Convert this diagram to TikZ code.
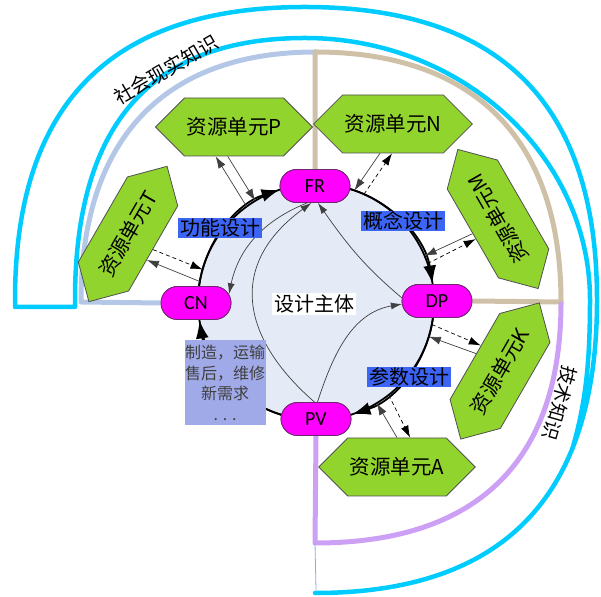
\documentclass[tikz,border=0pt]{standalone}
\usepackage{fontspec}
\setmainfont{Noto Sans CJK SC}
\newfontfamily\latinf{Carlito}
\usetikzlibrary{shapes.misc,shapes.symbols,arrows.meta,calc}
\definecolor{cyanline}{RGB}{0,204,255}
\definecolor{steel}{RGB}{180,199,231}
\definecolor{tanline}{RGB}{207,193,168}
\definecolor{violetline}{RGB}{204,160,245}
\definecolor{hexgreen}{RGB}{146,212,46}
\definecolor{hexedge}{RGB}{80,80,80}
\definecolor{pillmag}{RGB}{255,0,255}
\definecolor{pilledge}{RGB}{110,40,110}
\definecolor{circfill}{RGB}{228,234,246}
\definecolor{labelblue}{RGB}{60,100,245}
\definecolor{notebox}{RGB}{160,170,232}
\definecolor{thinblue}{RGB}{143,170,220}
\begin{document}
\begin{tikzpicture}[x=1pt,y=1pt,
  hexbox/.style={signal, signal to=east and west, signal pointer angle=90,
    draw=hexedge, line width=0.8, fill=hexgreen, minimum height=58,
    minimum width=140, inner xsep=2, font=\fontsize{20.5}{24}\selectfont},
  pill/.style={rounded rectangle, draw=pilledge, line width=0.8, fill=pillmag,
    minimum width=70, minimum height=33, inner sep=0,
    font=\latinf\fontsize{20}{24}\selectfont},
  tag/.style={fill=labelblue, inner xsep=2, inner ysep=1,
    font=\fontsize{20}{24}\selectfont},
  circarrow/.style={line width=1.8, -{Latex[length=18,width=13]}},
  hexsolid/.style={line width=0.7, draw=black!75, -{Latex[length=12,width=8]}},
  hexdash/.style={line width=0.7, dash pattern=on 4 off 3, -{Latex[length=12,width=8]}},
  innerarrow/.style={line width=0.7, draw=black!75, -{Latex[length=11,width=7]}},
  frame/.style={line width=5, line join=round},
]
\useasboundingbox (0,0) rectangle (601,596);

% outer cyan band
\draw[cyanline, line width=4.5, line join=round, line cap=round]
  (572,146) .. controls (585,190) and (590,230) .. (590,296)
  .. controls (590,440) and (461.75,558) .. (305,558)
  .. controls (150.9,558) and (75,471.5) .. (75,296)
  -- (75,289) -- (15,289) -- (15,296)
  .. controls (15,492.3) and (110.7,589) .. (305,589)
  .. controls (500.6,589) and (597,492.3) .. (597,296)
  .. controls (597,99.7) and (504,3) .. (315,3);

% circle and nodes
\node[circle, minimum size=236, inner sep=0, outer sep=0, fill=circfill,
  draw=black, line width=1.8] (C) at (316,294) {};
\node[pill] (FR) at (315,410) {FR};
\node[pill] (CN) at (196,293) {CN};
\node[pill] (DP) at (437,295) {DP};
\node[pill] (PV) at (316,177) {PV};

% frames
\draw[frame, steel] (CN.west) -- (81,294)
  .. controls (81,456.5) and (163.25,544) .. (316,544);
\draw[frame, tanline] (FR.north) -- (315,544)
  .. controls (474.9,544) and (561,456.5) .. (561,294) -- (DP.east);
\draw[frame, violetline] (561,294)
  .. controls (561,132.2) and (474.9,53) .. (315,53) -- (PV.south);
\coordinate (lowend) at (316,6);
\draw[thinblue, line width=0.8] (315,53) -- (lowend);

% hexagons
\node[hexbox] (P) at (234,469) {资源单元P};
\node[hexbox] (N) at (393,472) {资源单元N};
\node[hexbox, rotate=60] (T) at (128,362) {资源单元T};
\node[hexbox, rotate=120] (M) at (498,377) {资源单元M};
\node[hexbox, rotate=60] (K) at (500,225) {资源单元K};
\node[hexbox] (A) at (397,129) {资源单元A};

% inner curves
\draw[innerarrow] (FR.245) to[out=202,in=78] (CN.15);
\draw[innerarrow] (PV.95) to[out=139,in=216,looseness=1.3] (FR.258);
\draw[innerarrow] (PV.85) to[out=72,in=190] (DP.185);
\draw[innerarrow] (DP.175) to[out=140,in=305] (FR.280);

% circle arrows
\draw[circarrow] (C.172) arc[start angle=172, end angle=108, radius=118];
\draw[circarrow] (C.73) arc[start angle=73, end angle=9, radius=118];
\draw[circarrow] (C.-8) arc[start angle=-8, end angle=-72, radius=118];
\draw[circarrow] (C.-107) arc[start angle=-107, end angle=-171, radius=118];

% redraw pills on top
\node[pill] at (FR) {FR};
\node[pill] at (CN) {CN};
\node[pill] at (DP) {DP};
\node[pill] at (PV) {PV};

% hexagon connectors
\draw[hexsolid] (C.126) -- (P.238);
\draw[hexsolid] (P.258) -- (C.121);
\draw[hexdash] (T.268) -- (C.164);
\draw[hexsolid] (C.170) -- (T.246);
\draw[hexsolid] (N.246) -- (C.71);
\draw[hexdash] (C.66) -- (N.268);
\draw[hexsolid] (M.90) -- (C.23);
\draw[hexdash] (C.19) -- (M.102);
\draw[hexdash] (C.-11) -- (K.67);
\draw[hexsolid] (K.84) -- (C.-17);
\draw[hexsolid] (A.90) -- (C.-59);
\draw[hexdash] (C.-52) -- (A.66);

% labels
\node[tag] (L1) at (220,368) {功能设计};
\node[tag] (L2) at (403,375) {概念设计};
\node[tag] (L3) at (409,219) {参数设计};
\node[fill=white, inner sep=2, font=\fontsize{20}{24}\selectfont] (S) at (314,292) {设计主体};
\node[fill=notebox, text=black!75, align=center, minimum width=81, minimum height=85,
  inner sep=0, font=\fontsize{16}{20.5}\selectfont] (note) at (225,213)
  {制造，运输\\售后，维修\\新需求\\. . .};
\node[rotate=30, font=\fontsize{19.5}{24}\selectfont] (soc) at (166,526) {社会现实知识};
\node[rotate=-106, font=\fontsize{19}{24}\selectfont] (tech) at (560,193) {技术知识};
\end{tikzpicture}
\end{document}
